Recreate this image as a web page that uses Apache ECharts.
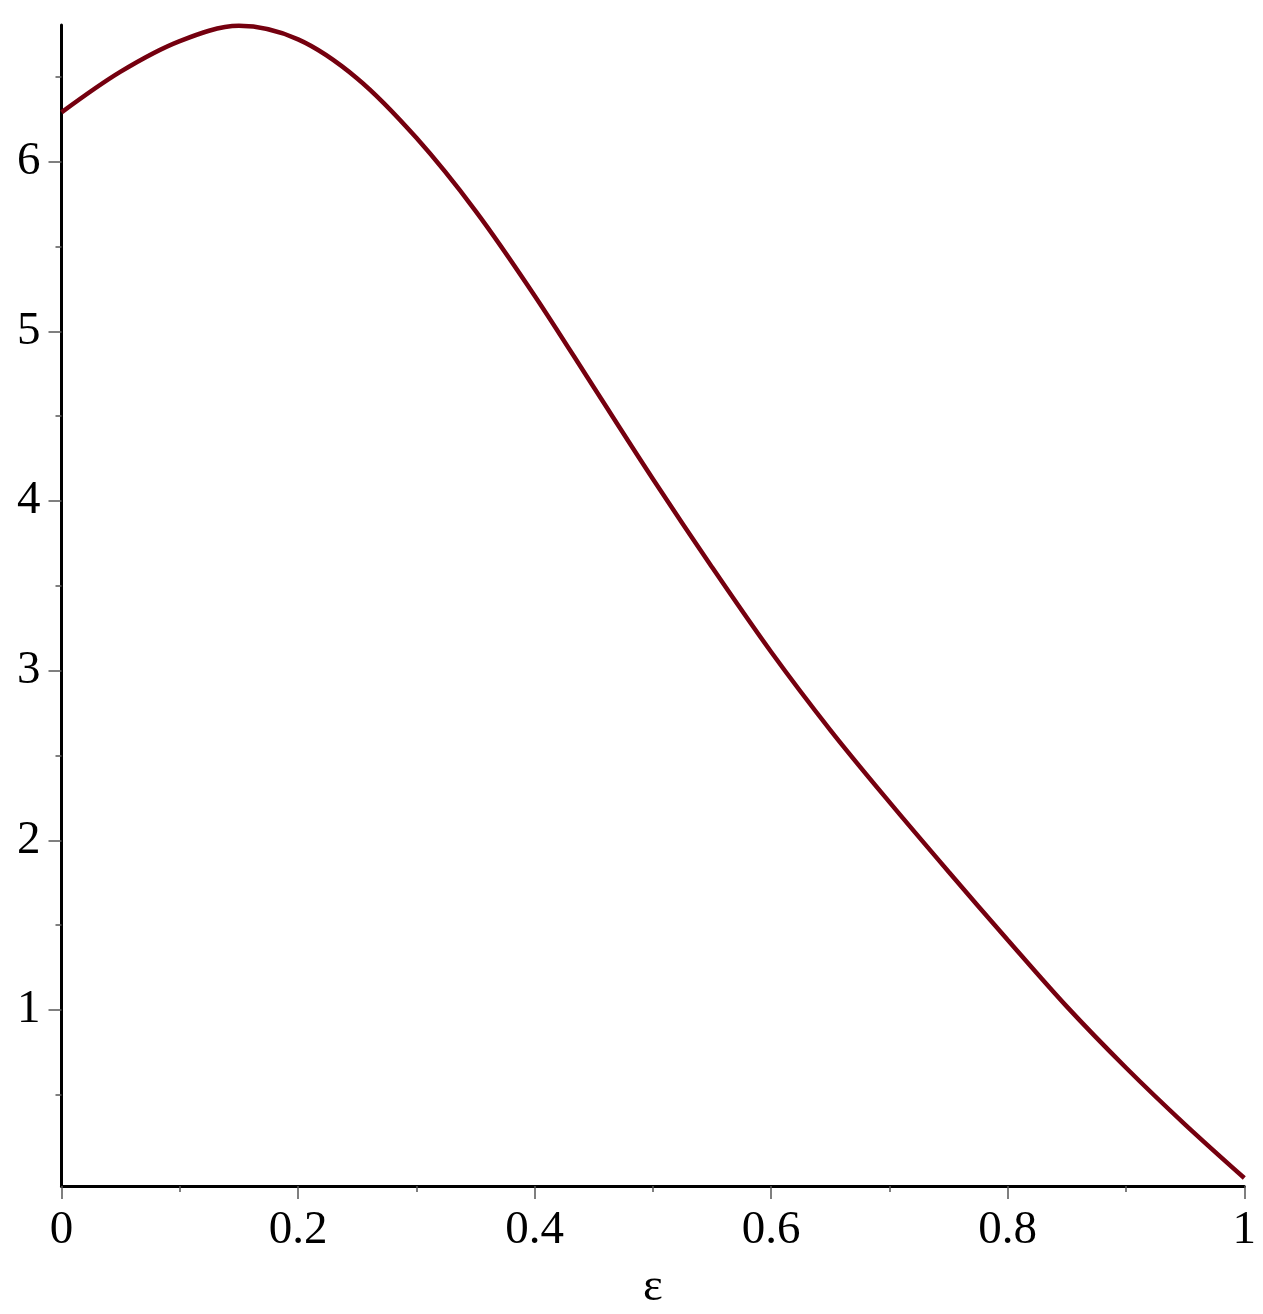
<!DOCTYPE html>
<html>
<head>
<meta charset="utf-8">
<title>f(ε)</title>
<script src="https://cdn.jsdelivr.net/npm/echarts@6/dist/echarts.min.js"></script>
<style>
	html, body { margin: 0; padding: 0; background: #fff; }
	#chart { width: 1263px; height: 1314px; }
</style>
</head>
<body>
<div id="chart"></div>
<script>
// values
const epsValues = [0, 0.05, 0.1, 0.15, 0.2, 0.25, 0.3, 0.35, 0.4, 0.45, 0.5,
	0.55, 0.6, 0.65, 0.7, 0.75, 0.8, 0.85, 0.9, 0.95, 1]
const fValues = [6.29, 6.53, 6.71, 6.80, 6.72, 6.49, 6.14, 5.71, 5.21, 4.67, 4.13,
	3.61, 3.11, 2.65, 2.225, 1.815, 1.413, 1.02, 0.66, 0.325, 0.01]
const yTickValues = [1, 2, 3, 4, 5, 6]
const yMinorValues = [0.5, 1.5, 2.5, 3.5, 4.5, 5.5, 6.5]
const xName = "ε"

const labelFont = "'Liberation Serif', 'DejaVu Serif', serif"

let myChart = echarts.init(document.getElementById("chart"))
let option = {
	animation: false,
	grid: {
		left: 61.5,
		right: 18.7,
		top: 25,
		bottom: 128,
		outerBoundsMode: "none",
	},
	xAxis: {
		type: "value",
		min: 0,
		max: 1,
		interval: 0.2,
		name: xName,
		nameLocation: "middle",
		nameGap: 78,
		nameTextStyle: { fontFamily: labelFont, fontSize: 47, color: "#000" },
		splitLine: { show: false },
		axisLine: { show: true, onZero: false, lineStyle: { color: "#000", width: 3 } },
		axisTick: { show: true, length: 13, lineStyle: { color: "#555", width: 1.5 } },
		minorTick: { show: true, splitNumber: 2, length: 6, lineStyle: { color: "#555", width: 1.5 } },
		axisLabel: {
			margin: 21,
			fontFamily: labelFont,
			fontSize: 47,
			color: "#000",
			formatter: (v) => String(+v.toFixed(1)),
		},
	},
	yAxis: [
		{
			type: "value",
			min: -0.037,
			max: 6.805,
			splitLine: { show: false },
			axisLine: { show: true, onZero: false, lineStyle: { color: "#000", width: 3 } },
			axisTick: { show: true, length: 13, customValues: yTickValues, lineStyle: { color: "#555", width: 1.5 } },
			axisLabel: {
				margin: 21,
				fontFamily: labelFont,
				fontSize: 47,
				color: "#000",
				customValues: yTickValues,
			},
		},
		{
			// only the short minor ticks
			type: "value",
			position: "left",
			min: -0.037,
			max: 6.805,
			splitLine: { show: false },
			axisLine: { show: false },
			axisTick: { show: true, length: 6, customValues: yMinorValues, lineStyle: { color: "#555", width: 1.5 } },
			axisLabel: { show: false },
		},
	],
	series: [
		{
			type: "line",
			yAxisIndex: 0,
			data: epsValues.map((x, i) => [x, fValues[i]]),
			smooth: 0.33,
			symbol: "none",
			lineStyle: { color: "#75000f", width: 4.5 },
		},
	],
}
myChart.setOption(option)
</script>
</body>
</html>
